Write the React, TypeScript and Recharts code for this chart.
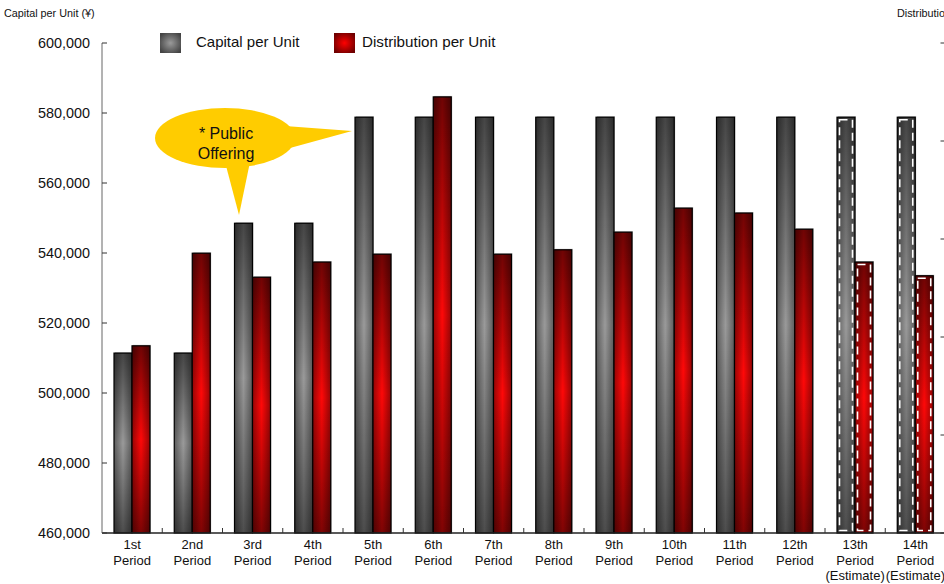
import { Bar, BarChart, XAxis, YAxis } from "recharts";

const PERIODS = [
  "1st\nPeriod",
  "2nd\nPeriod",
  "3rd\nPeriod",
  "4th\nPeriod",
  "5th\nPeriod",
  "6th\nPeriod",
  "7th\nPeriod",
  "8th\nPeriod",
  "9th\nPeriod",
  "10th\nPeriod",
  "11th\nPeriod",
  "12th\nPeriod",
  "13th\nPeriod\n(Estimate)",
  "14th\nPeriod\n(Estimate)",
];

// yen per unit
const CAPITAL = [
  511400, 511400, 548500, 548500, 578800, 578800, 578800, 578800, 578800, 578800, 578800, 578800,
  578800, 578800,
];
const DISTRIBUTION = [
  13820, 15710, 15220, 15530, 15690, 18900, 15690, 15780, 16140, 16630, 16530, 16200, 15530, 15250,
];

const LEFT_TICKS = [460000, 480000, 500000, 520000, 540000, 560000, 580000, 600000];
const RIGHT_TICKS = [10000, 12000, 14000, 16000, 18000, 20000];

const FONT = '"Liberation Sans", Arial, sans-serif';

type Row = { period: string; capital: number; distribution: number; estimate: boolean };

const data: Row[] = PERIODS.map((p, i) => ({
  period: p,
  capital: CAPITAL[i],
  distribution: DISTRIBUTION[i],
  estimate: p.includes("(Estimate)"),
}));

function makeShape(base: string, vGrad: string, hGrad: string) {
  return (props: any) => {
    const { x, y, width, height, payload } = props;
    if (!height || height <= 0) return <g />;
    return (
      <g>
        <rect x={x + 1} y={y - 1} width={width} height={height} fill="#c4c4c4" />
        <rect x={x} y={y} width={width} height={height} fill={base} />
        <rect x={x} y={y} width={width} height={height} fill={`url(#${vGrad})`} />
        <rect x={x} y={y} width={width} height={height} fill={`url(#${hGrad})`} />
        <rect x={x} y={y} width={width} height={height} fill="none" stroke="#000" strokeWidth={1.2} />
        {payload?.estimate && (
          <rect
            x={x + 2.5}
            y={y + 2.5}
            width={width - 5}
            height={height - 5}
            fill="none"
            stroke="#fff"
            strokeWidth={1.6}
            strokeDasharray="8 5"
          />
        )}
      </g>
    );
  };
}

const GrayBar = makeShape("#9a9a9a", "v-shade", "h-shade");
const RedBar = makeShape("#ff0808", "v-shade-red", "h-shade");

const LeftTick = ({ x, y, payload }: any) => (
  <g>
    <line x1={x} x2={x + 5} y1={y} y2={y} stroke="#333" />
    <text x={x - 12} y={y} dy="0.36em" textAnchor="end" fontSize={14.4} fontFamily={FONT} fill="#111">
      {Number(payload.value).toLocaleString("en-US")}
    </text>
  </g>
);

// the right scale's labels sit past the edge of the frame, only the marks show
const RightTick = ({ x, y }: any) => <line x1={x - 5} x2={x} y1={y} y2={y} stroke="#333" />;

const PeriodTick = ({ x, y, payload, index }: any) => {
  const half = payload?.offset || 30;
  const lines = String(payload.value).split("\n");
  return (
    <g>
      {index > 0 && <line x1={x - half} x2={x - half} y1={y} y2={y - 5} stroke="#333" />}
      <text textAnchor="middle" fontSize={13} fontFamily={FONT} fill="#111">
        {lines.map((l, i) => (
          <tspan key={i} x={x} y={y + 16 + i * 15.5}>
            {l}
          </tspan>
        ))}
      </text>
    </g>
  );
};

export default function App() {
  return (
    <div style={{ position: "relative", width: 944, height: 584, overflow: "hidden", background: "#fff" }}>
      <style>{`body{margin:0;overflow:hidden}`}</style>
      <BarChart
        width={1010}
        height={584}
        data={data}
        margin={{ top: 43, right: 4.5, bottom: 0, left: 0 }}
        barGap={0}
        barSize={18}
      >
        <defs>
          <linearGradient id="v-shade" x1="0" y1="0" x2="0" y2="1">
            <stop offset="0" stopColor="#000" stopOpacity={0.55} />
            <stop offset="0.5" stopColor="#000" stopOpacity={0} />
            <stop offset="1" stopColor="#000" stopOpacity={0.5} />
          </linearGradient>
          <linearGradient id="v-shade-red" x1="0" y1="0" x2="0" y2="1">
            <stop offset="0" stopColor="#000" stopOpacity={0.56} />
            <stop offset="0.5" stopColor="#000" stopOpacity={0} />
            <stop offset="1" stopColor="#000" stopOpacity={0.5} />
          </linearGradient>
          <linearGradient id="h-shade" x1="0" y1="0" x2="1" y2="0">
            <stop offset="0" stopColor="#000" stopOpacity={0.4} />
            <stop offset="0.5" stopColor="#000" stopOpacity={0} />
            <stop offset="1" stopColor="#000" stopOpacity={0.4} />
          </linearGradient>
        </defs>
        <XAxis
          dataKey="period"
          height={51}
          interval={0}
          tickSize={0}
          tickMargin={0}
          tickLine={false}
          axisLine={{ stroke: "#222", strokeWidth: 1.5 }}
          tick={<PeriodTick />}
        />
        <YAxis
          yAxisId="left"
          width={102}
          domain={[460000, 600000]}
          ticks={LEFT_TICKS}
          interval={0}
          tickSize={0}
          tickMargin={0}
          tickLine={false}
          axisLine={{ stroke: "#666" }}
          tick={<LeftTick />}
        />
        <YAxis
          yAxisId="right"
          orientation="right"
          width={60}
          domain={[10000, 20000]}
          ticks={RIGHT_TICKS}
          interval={0}
          tickSize={0}
          tickMargin={0}
          tickLine={false}
          axisLine={false}
          tick={<RightTick />}
        />
        <Bar yAxisId="left" dataKey="capital" name="Capital per Unit" shape={GrayBar} isAnimationActive={false} />
        <Bar
          yAxisId="right"
          dataKey="distribution"
          name="Distribution per Unit"
          shape={RedBar}
          isAnimationActive={false}
        />
      </BarChart>

      <svg
        width={944}
        height={584}
        style={{ position: "absolute", left: 0, top: 0, pointerEvents: "none" }}
        fontFamily={FONT}
      >
        <defs>
          <radialGradient id="key-gray" cx="0.5" cy="0.5" r="0.6">
            <stop offset="0" stopColor="#9a9a9a" />
            <stop offset="1" stopColor="#444" />
          </radialGradient>
          <radialGradient id="key-red" cx="0.5" cy="0.5" r="0.6">
            <stop offset="0" stopColor="#f00" />
            <stop offset="1" stopColor="#6e0000" />
          </radialGradient>
        </defs>

        {/* axis titles */}
        <text x={4} y={17} fontSize={10.8} fill="#111">
          Capital per Unit (¥)
        </text>
        <text x={897} y={17} fontSize={10.8} fill="#111">
          Distribution per Unit (¥)
        </text>

        {/* legend */}
        <rect x={160} y={33} width={21} height={20} fill="url(#key-gray)" />
        <text x={196} y={47} fontSize={15} fill="#111">
          Capital per Unit
        </text>
        <rect x={334} y={33} width={21} height={20} fill="url(#key-red)" />
        <text x={362} y={47} fontSize={15.2} fill="#111">
          Distribution per Unit
        </text>

        {/* public offering callout */}
        <g fill="#ffcc00">
          <ellipse cx={225} cy={138} rx={70} ry={30} />
          <polygon points="285,126 352,131 290,148" />
          <polygon points="225,162 239,215 250,162" />
        </g>
        <text textAnchor="middle" fontSize={16} fill="#111">
          <tspan x={226} y={139}>
            * Public
          </tspan>
          <tspan x={226} y={159}>
            Offering
          </tspan>
        </text>
      </svg>
    </div>
  );
}
